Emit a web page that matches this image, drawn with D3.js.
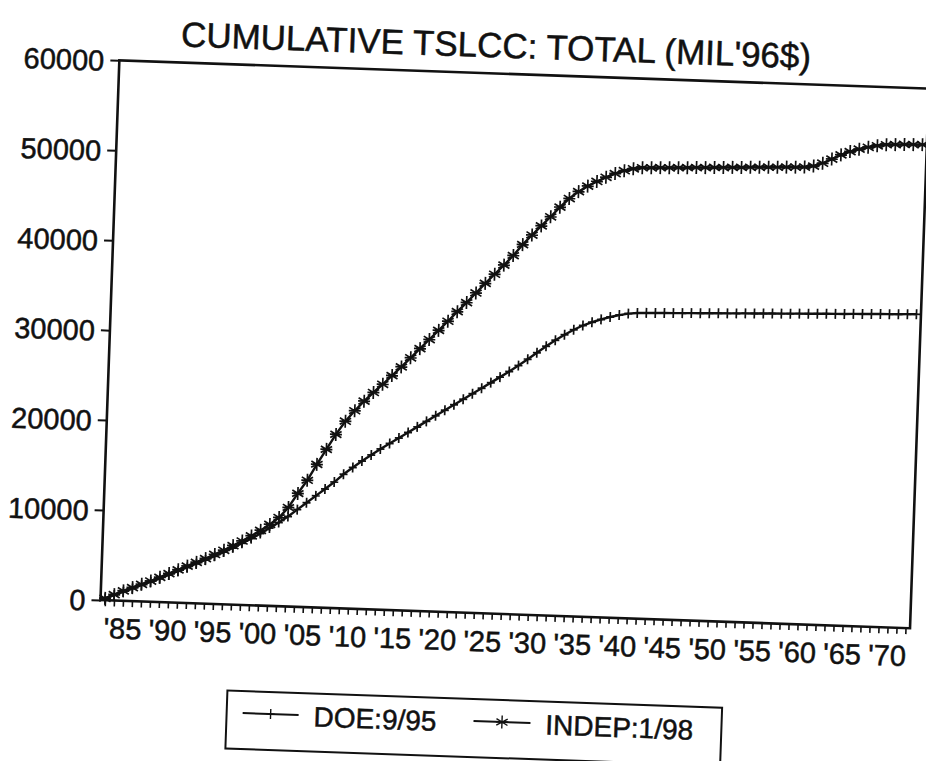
<!DOCTYPE html>
<html>
<head>
<meta charset="utf-8">
<script src="https://cdn.jsdelivr.net/npm/d3@7"></script>
<style>
  html, body { margin: 0; padding: 0; background: #fff; }
  svg { display: block; }
  text { font-family: "Liberation Sans", Arial, Helvetica, sans-serif; fill: #111; stroke: #111; stroke-width: 0.5px; }
</style>
</head>
<body>
<svg id="chart" width="926" height="761"></svg>
<script>
// Fiscal years covered by the two estimates (one marker per year)
const firstYear = 1983;
const lastYear = 2072;
const years = d3.range(firstYear, lastYear + 1);

// Cumulative total life-cycle cost, millions of 1996 dollars
const doeCost = [
  200, 600, 1000, 1400, 1800, 2200, 2600, 3050, 3500, 3950,
  4400, 4850, 5300, 5800, 6300, 6850, 7400, 8000, 8650, 9300,
  10000, 10800, 11600, 12400, 13200, 14000, 14900, 15700, 16450, 17150,
  17850, 18500, 19150, 19800, 20450, 21100, 21750, 22400, 23050, 23700,
  24350, 25000, 25650, 26300, 26950, 27650, 28400, 29150, 29900, 30600,
  31250, 31850, 32350, 32750, 33100, 33400, 33650, 33850, 33950, 34000,
  34020, 34060, 34080, 34110, 34150, 34170, 34200, 34240, 34260, 34290,
  34330, 34350, 34380, 34420, 34440, 34470, 34510, 34530, 34560, 34600,
  34620, 34650, 34690, 34710, 34740, 34780, 34800, 34830, 34870, 34900
];

const indepCost = [
  200, 650, 1100, 1500, 1900, 2300, 2750, 3200, 3650, 4100,
  4550, 5000, 5500, 6000, 6550, 7100, 7700, 8350, 9050, 9850,
  11000, 12600, 14100, 15900, 17600, 19300, 20800, 22000, 23100, 24100,
  25050, 26050, 27050, 28100, 29150, 30200, 31250, 32300, 33400, 34450,
  35550, 36650, 37700, 38750, 39850, 41100, 42200, 43250, 44300, 45400,
  46400, 47200, 47850, 48400, 48900, 49350, 49700, 49950, 50100, 50130,
  50180, 50200, 50250, 50280, 50330, 50360, 50410, 50440, 50490, 50520,
  50570, 50600, 50650, 50680, 50730, 50760, 50810, 50950, 51300, 51800,
  52300, 52700, 53000, 53250, 53450, 53600, 53650, 53700, 53720, 53750
];

const yTickValues = [0, 10000, 20000, 30000, 40000, 50000, 60000];
const xLabelYears = [1985, 1990, 1995, 2000, 2005, 2010, 2015, 2020, 2025, 2030,
                     2035, 2040, 2045, 2050, 2055, 2060, 2065, 2070];
const titleText = "CUMULATIVE TSLCC: TOTAL (MIL'96$)";
const seriesNames = ["DOE:9/95", "INDEP:1/98"];

// Plot geometry (the whole page is drawn slightly tilted)
const W = 810, H = 540;
const svg = d3.select("#chart");
const g = svg.append("g")
  .attr("transform", "translate(100.5,600) rotate(2) translate(0,-540)");

const x = d3.scaleLinear().domain([firstYear - 0.5, lastYear + 0.5]).range([0, W]);
const y = d3.scaleLinear().domain([0, 60000]).range([H, 0]);

// Title
g.append("text")
  .attr("x", 376).attr("y", -16)
  .attr("text-anchor", "middle")
  .style("font-size", "35px")
  .text(titleText);

// Y axis with outward ticks
const yAxis = g.append("g")
  .call(d3.axisLeft(y).tickValues(yTickValues).tickSize(9).tickPadding(6)
        .tickFormat(d3.format("d")));
yAxis.select(".domain").remove();
yAxis.selectAll("line").attr("stroke", "#111").attr("stroke-width", 2);
yAxis.selectAll("text").style("font-size", "29px").attr("dy", "0.36em");

// X axis: a small tick for every year
const xMinor = g.append("g").attr("transform", `translate(0,${H})`)
  .call(d3.axisBottom(x).tickValues(years).tickSize(6).tickFormat(""));
xMinor.select(".domain").remove();
xMinor.selectAll("line").attr("stroke", "#111").attr("stroke-width", 1.6);

// X axis labels every five years
const xLabels = g.append("g").attr("transform", `translate(0,${H})`)
  .call(d3.axisBottom(x).tickValues(xLabelYears).tickSize(0)
        .tickFormat(d => "'" + String(d).slice(2)));
xLabels.select(".domain").remove();
xLabels.selectAll("text")
  .attr("y", 38).attr("dy", null)
  .style("font-size", "29px");

// Plot frame
g.append("rect")
  .attr("x", 0).attr("y", 0).attr("width", W).attr("height", H)
  .attr("fill", "none").attr("stroke", "#111").attr("stroke-width", 2.6);

const doeData = years.map((yr, i) => ({ year: yr, value: doeCost[i] }));
const indepData = years.map((yr, i) => ({ year: yr, value: indepCost[i] }));

const line = d3.line().x(d => x(d.year)).y(d => y(d.value));

// Marker shapes
const plusPath = "M0,-5V5M-4,0H4";
const starPath = "M0,-6.5V6.5M-5.6,-3.2L5.6,3.2M-5.6,3.2L5.6,-3.2M-6,0H6";

function drawSeries(data, markerPath, markerWidth) {
  g.append("path").datum(data)
    .attr("d", line)
    .attr("fill", "none").attr("stroke", "#111").attr("stroke-width", 2.4);
  g.append("g").selectAll("path").data(data).join("path")
    .attr("transform", d => `translate(${x(d.year)},${y(d.value)})`)
    .attr("d", markerPath)
    .attr("fill", "none").attr("stroke", "#111").attr("stroke-width", markerWidth);
}
drawSeries(doeData, plusPath, 1.7);
drawSeries(indepData, starPath, 1.7);

// Legend
const legend = g.append("g").attr("transform", `translate(0,${H})`);
legend.append("rect")
  .attr("x", 130).attr("y", 86).attr("width", 495).attr("height", 58)
  .attr("fill", "none").attr("stroke", "#111").attr("stroke-width", 2);

const legendItems = [
  { name: seriesNames[0], x0: 146, x1: 202, text: 217, marker: plusPath },
  { name: seriesNames[1], x0: 377, x1: 434, text: 449, marker: starPath }
];
legendItems.forEach(item => {
  legend.append("line")
    .attr("x1", item.x0).attr("x2", item.x1).attr("y1", 108).attr("y2", 108)
    .attr("stroke", "#111").attr("stroke-width", 2);
  legend.append("path")
    .attr("transform", `translate(${(item.x0 + item.x1) / 2},108)`)
    .attr("d", item.marker)
    .attr("fill", "none").attr("stroke", "#111").attr("stroke-width", 1.4);
  legend.append("text")
    .attr("x", item.text).attr("y", 119)
    .style("font-size", "28px")
    .text(item.name);
});
</script>
</body>
</html>
